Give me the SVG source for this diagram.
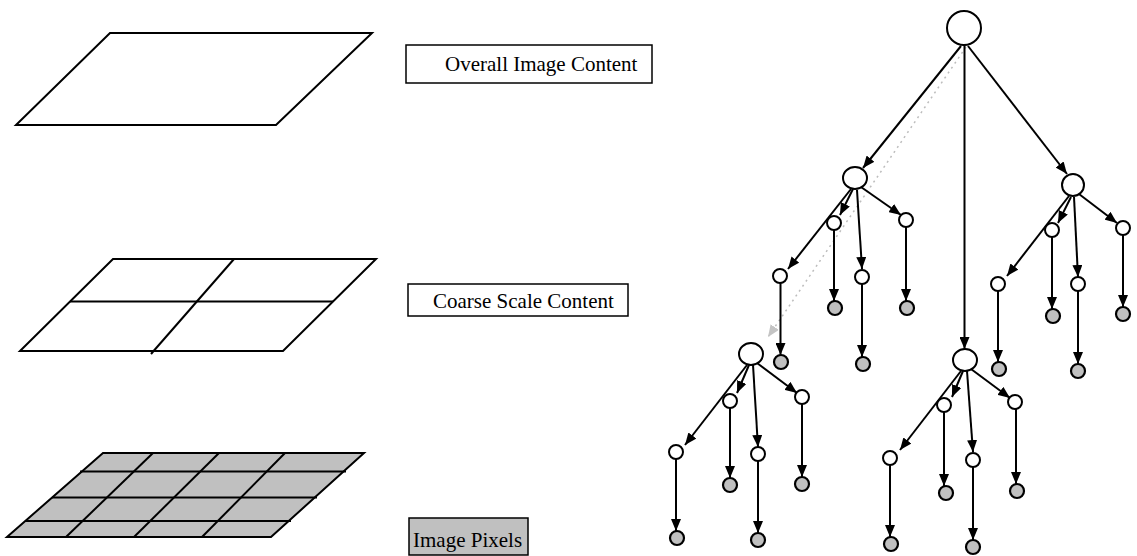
<svg xmlns="http://www.w3.org/2000/svg" width="1137" height="556" viewBox="0 0 1137 556">
<style>
.shape{fill:none;stroke:#000;stroke-width:2;stroke-linejoin:miter}
.cell{fill:#c0c0c0;stroke:#000;stroke-width:2}
.grid{stroke:#000;stroke-width:2;fill:none}
.box{fill:#fff;stroke:#000;stroke-width:1.5}
.boxg{fill:#c0c0c0;stroke:#000;stroke-width:1.5}
.lbl{font-family:"Liberation Serif","Times New Roman",serif;font-size:21px;fill:#000}
.n{fill:#fff;stroke:#000;stroke-width:2}
.leaf{fill:#c0c0c0;stroke:#000;stroke-width:2.2}
.e{stroke:#000;stroke-width:2;fill:none;marker-end:url(#ah)}
.eg{stroke:#bdbdbd;stroke-width:1.5;fill:none;stroke-dasharray:2 4;marker-end:url(#ahg)}
</style>
<defs>
<marker id="ah" markerUnits="userSpaceOnUse" markerWidth="12" markerHeight="10" refX="12" refY="5" orient="auto"><path d="M0,0 L12,5 L0,10 z" fill="#000"/></marker>
<marker id="ahg" markerUnits="userSpaceOnUse" markerWidth="12" markerHeight="10" refX="12" refY="5" orient="auto"><path d="M0,0 L12,5 L0,10 z" fill="#c4c4c4"/></marker>
</defs>

<g id="layer-top">
<polygon class="shape" points="110,33 372,33 276,125 16,125"/>
</g>
<g id="layer-middle">
<polygon class="shape" points="113,259 376,259 283,351 20,351"/>
<line class="grid" x1="70" y1="301.5" x2="333" y2="301.5"/>
<line class="grid" x1="234" y1="259" x2="151" y2="354"/>
</g>
<g id="layer-bottom">
<polygon class="cell" points="103,453 364,453 271,537 7,537"/>
<line class="grid" x1="80" y1="471.5" x2="346" y2="471.5"/>
<line class="grid" x1="52" y1="497.5" x2="317" y2="497.5"/>
<line class="grid" x1="25" y1="521" x2="291" y2="521"/>
<line class="grid" x1="153" y1="453" x2="66" y2="537"/>
<line class="grid" x1="219" y1="453" x2="134" y2="537"/>
<line class="grid" x1="285" y1="453" x2="202" y2="537"/>
</g>

<g id="label-overall">
<rect class="box" x="406" y="45" width="246" height="38"/>
<text class="lbl" x="445" y="71">Overall Image Content</text>
</g>
<g id="label-coarse">
<rect class="box" x="408" y="284" width="220" height="32"/>
<text class="lbl" x="433" y="308">Coarse Scale Content</text>
</g>
<g id="label-pixels">
<rect class="boxg" x="409" y="518" width="119" height="37"/>
<text class="lbl" x="413" y="547">Image Pixels</text>
</g>

<g id="connectors">
<line class="eg" x1="966" y1="47" x2="768" y2="337"/>
<line class="e" x1="961" y1="46" x2="863" y2="168"/>
<line class="e" x1="968" y1="46" x2="1067" y2="174"/>
<line class="e" x1="964.5" y1="45" x2="964.5" y2="349"/>

<line class="e" x1="851" y1="189" x2="788" y2="269"/>
<line class="e" x1="853" y1="189" x2="840" y2="215"/>
<line class="e" x1="857" y1="190" x2="862" y2="269"/>
<line class="e" x1="861" y1="187" x2="901" y2="215"/>
<line class="e" x1="834" y1="230" x2="834" y2="301"/>
<line class="e" x1="906" y1="227" x2="906" y2="301"/>
<line class="e" x1="780.5" y1="283" x2="780.5" y2="355"/>
<line class="e" x1="862" y1="284" x2="862" y2="357"/>

<line class="e" x1="1069" y1="196" x2="1007" y2="276"/>
<line class="e" x1="1071" y1="197" x2="1058" y2="223"/>
<line class="e" x1="1074" y1="197" x2="1078" y2="277"/>
<line class="e" x1="1079" y1="194" x2="1117" y2="223"/>
<line class="e" x1="1052" y1="237" x2="1052" y2="309"/>
<line class="e" x1="1123" y1="235" x2="1123" y2="307"/>
<line class="e" x1="998" y1="291" x2="998" y2="362"/>
<line class="e" x1="1078" y1="291" x2="1078" y2="364"/>

<line class="e" x1="747" y1="365" x2="685" y2="445"/>
<line class="e" x1="749" y1="365" x2="737" y2="393"/>
<line class="e" x1="753" y1="365" x2="758" y2="447"/>
<line class="e" x1="757" y1="363" x2="797" y2="393"/>
<line class="e" x1="730" y1="408" x2="730" y2="478"/>
<line class="e" x1="802" y1="404" x2="802" y2="477"/>
<line class="e" x1="676" y1="459" x2="676" y2="531"/>
<line class="e" x1="758" y1="461" x2="758" y2="533"/>

<line class="e" x1="961" y1="371" x2="900" y2="450"/>
<line class="e" x1="963" y1="371" x2="952" y2="397"/>
<line class="e" x1="967" y1="371" x2="973" y2="452"/>
<line class="e" x1="971" y1="369" x2="1010" y2="398"/>
<line class="e" x1="944" y1="412" x2="944" y2="486"/>
<line class="e" x1="1016" y1="409" x2="1016" y2="484"/>
<line class="e" x1="890" y1="465" x2="890" y2="537"/>
<line class="e" x1="973" y1="467" x2="973" y2="540"/>
</g>

<g id="node-root"><ellipse class="n" cx="964" cy="28" rx="17" ry="17"/></g>
<g id="node-A"><ellipse class="n" cx="855" cy="178" rx="12" ry="11"/></g>
<g id="node-B"><ellipse class="n" cx="1073" cy="185" rx="11" ry="11"/></g>
<g id="node-C"><ellipse class="n" cx="751" cy="354" rx="12" ry="11"/></g>
<g id="node-D"><ellipse class="n" cx="965" cy="360" rx="12" ry="11"/></g>

<g id="node-a1"><circle class="n" cx="834" cy="223" r="7"/></g>
<g id="node-a2"><circle class="n" cx="862" cy="277" r="7"/></g>
<g id="node-a3"><circle class="n" cx="906" cy="220" r="7"/></g>
<g id="node-a4"><circle class="n" cx="780" cy="276" r="7"/></g>
<g id="leaf-a1"><circle class="leaf" cx="835" cy="308" r="7"/></g>
<g id="leaf-a3"><circle class="leaf" cx="907" cy="308" r="7"/></g>
<g id="leaf-a4"><circle class="leaf" cx="781" cy="362" r="7"/></g>
<g id="leaf-a2"><circle class="leaf" cx="863" cy="364" r="7"/></g>

<g id="node-b1"><circle class="n" cx="1052" cy="230" r="7"/></g>
<g id="node-b2"><circle class="n" cx="1078" cy="284" r="7"/></g>
<g id="node-b3"><circle class="n" cx="1123" cy="228" r="7"/></g>
<g id="node-b4"><circle class="n" cx="998" cy="284" r="7"/></g>
<g id="leaf-b1"><circle class="leaf" cx="1053" cy="316" r="7"/></g>
<g id="leaf-b3"><circle class="leaf" cx="1123" cy="314" r="7"/></g>
<g id="leaf-b4"><circle class="leaf" cx="999" cy="369" r="7"/></g>
<g id="leaf-b2"><circle class="leaf" cx="1078" cy="371" r="7"/></g>

<g id="node-c1"><circle class="n" cx="730" cy="401" r="7"/></g>
<g id="node-c2"><circle class="n" cx="758" cy="454" r="7"/></g>
<g id="node-c3"><circle class="n" cx="802" cy="397" r="7"/></g>
<g id="node-c4"><circle class="n" cx="676" cy="452" r="7"/></g>
<g id="leaf-c1"><circle class="leaf" cx="730" cy="485" r="7"/></g>
<g id="leaf-c3"><circle class="leaf" cx="802" cy="484" r="7"/></g>
<g id="leaf-c4"><circle class="leaf" cx="677" cy="538" r="7"/></g>
<g id="leaf-c2"><circle class="leaf" cx="758" cy="540" r="7"/></g>

<g id="node-d1"><circle class="n" cx="944" cy="405" r="7"/></g>
<g id="node-d2"><circle class="n" cx="973" cy="460" r="7"/></g>
<g id="node-d3"><circle class="n" cx="1015" cy="402" r="7"/></g>
<g id="node-d4"><circle class="n" cx="890" cy="458" r="7"/></g>
<g id="leaf-d1"><circle class="leaf" cx="946" cy="493" r="7"/></g>
<g id="leaf-d3"><circle class="leaf" cx="1017" cy="491" r="7"/></g>
<g id="leaf-d4"><circle class="leaf" cx="891" cy="544" r="7"/></g>
<g id="leaf-d2"><circle class="leaf" cx="973" cy="547" r="7"/></g>
</svg>
